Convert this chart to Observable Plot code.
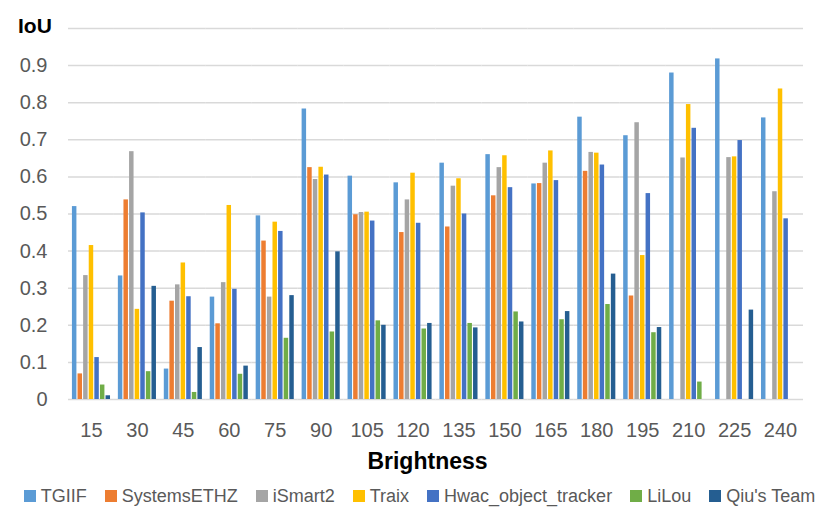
<!DOCTYPE html>
<html>
<head>
<meta charset="utf-8">
<script src="https://cdn.jsdelivr.net/npm/d3@7"></script>
<script src="https://cdn.jsdelivr.net/npm/@observablehq/plot@0.6"></script>
<style>
  body { margin: 0; background: #fff; font-family: "Liberation Sans", Arial, sans-serif; }
  #wrap { position: relative; width: 830px; }
  #ylab { position: absolute; left: 18px; top: 14px; font-size: 21px; font-weight: bold; color: #000; }
  #xlab { height: 30px; line-height: 30px; text-align: center; padding-left: 25px; box-sizing: border-box; width: 830px; font-size: 23px; font-weight: bold; color: #000; }
  #legend { height: 40px; display: flex; justify-content: center; align-items: center; padding-left: 9px; box-sizing: border-box; width: 830px; font-size: 18px; color: #595959; }
  .item { display: flex; align-items: center; margin: 0 9px; white-space: nowrap; }
  .sw { width: 12px; height: 12px; margin-right: 5px; }
  svg [aria-label="y-axis tick label"], svg [aria-label="fx-axis tick label"] { fill: #595959; }
</style>
</head>
<body>
<div id="wrap">
  <div id="chart"></div>
  <div id="ylab">IoU</div>
  <div id="xlab">Brightness</div>
  <div id="legend"></div>
</div>
<script>
const brightness = [15, 30, 45, 60, 75, 90, 105, 120, 135, 150, 165, 180, 195, 210, 225, 240];
const series = ["TGIIF", "SystemsETHZ", "iSmart2", "Traix", "Hwac_object_tracker", "LiLou", "Qiu's Team"];
const colors = ["#5B9BD5", "#ED7D31", "#A5A5A5", "#FFC000", "#4472C4", "#70AD47", "#255E91"];
const TGIIF       = [0.520, 0.333, 0.082, 0.276, 0.495, 0.783, 0.602, 0.584, 0.637, 0.660, 0.581, 0.761, 0.711, 0.880, 0.918, 0.759];
const SystemsETHZ = [0.069, 0.538, 0.265, 0.204, 0.427, 0.625, 0.498, 0.450, 0.465, 0.549, 0.582, 0.615, 0.279, 0, 0, 0];
const iSmart2     = [0.334, 0.668, 0.309, 0.315, 0.276, 0.593, 0.504, 0.538, 0.575, 0.625, 0.637, 0.666, 0.746, 0.651, 0.652, 0.560];
const Traix       = [0.415, 0.243, 0.368, 0.523, 0.478, 0.626, 0.505, 0.610, 0.595, 0.657, 0.670, 0.664, 0.388, 0.795, 0.654, 0.837];
const Hwac        = [0.113, 0.503, 0.277, 0.297, 0.453, 0.605, 0.481, 0.475, 0.500, 0.571, 0.590, 0.632, 0.555, 0.731, 0.698, 0.487];
const LiLou       = [0.039, 0.075, 0.019, 0.068, 0.165, 0.182, 0.212, 0.190, 0.205, 0.236, 0.215, 0.256, 0.180, 0.047, 0, 0];
const Qiu         = [0.010, 0.305, 0.140, 0.090, 0.280, 0.398, 0.200, 0.205, 0.193, 0.209, 0.237, 0.338, 0.194, 0, 0.241, 0];
const yTicks = [0, 0.1, 0.2, 0.3, 0.4, 0.5, 0.6, 0.7, 0.8, 0.9];
const gridLines = [0.1, 0.2, 0.3, 0.4, 0.5, 0.6, 0.7, 0.8, 0.9, 1.0];

const valuesBySeries = [TGIIF, SystemsETHZ, iSmart2, Traix, Hwac, LiLou, Qiu];
const data = [];
brightness.forEach((b, i) => {
  series.forEach((s, j) => data.push({b, s, v: valuesBySeries[j][i]}));
});

const chart = Plot.plot({
  width: 830,
  height: 446,
  marginLeft: 68,
  marginRight: 27,
  marginTop: 28,
  marginBottom: 47,
  style: {fontFamily: "Liberation Sans, Arial, sans-serif", fontSize: "20px", background: "#fff"},
  fx: {domain: brightness, padding: 0, round: false, tickSize: 0, tickPadding: 23, label: null},
  x: {domain: series, paddingInner: 0.2, paddingOuter: 0.7, round: false, axis: null},
  y: {domain: [0, 1], ticks: yTicks, tickFormat: d => d === 0 ? "0" : d3.format(".1f")(d), tickSize: 0, tickPadding: 21, label: null},
  color: {domain: series, range: colors},
  marks: [
    Plot.ruleY(gridLines, {stroke: "#d9d9d9", strokeWidth: 1.5}),
    Plot.ruleY([0], {stroke: "#d9d9d9", strokeWidth: 1.5}),
    Plot.barY(data, {fx: "b", x: "s", y: "v", fill: "s"})
  ]
});
document.getElementById("chart").appendChild(chart);

const legend = document.getElementById("legend");
series.forEach((s, i) => {
  const it = document.createElement("div");
  it.className = "item";
  const sw = document.createElement("div");
  sw.className = "sw";
  sw.style.background = colors[i];
  const t = document.createElement("span");
  t.textContent = s;
  it.appendChild(sw);
  it.appendChild(t);
  legend.appendChild(it);
});
</script>
</body>
</html>
